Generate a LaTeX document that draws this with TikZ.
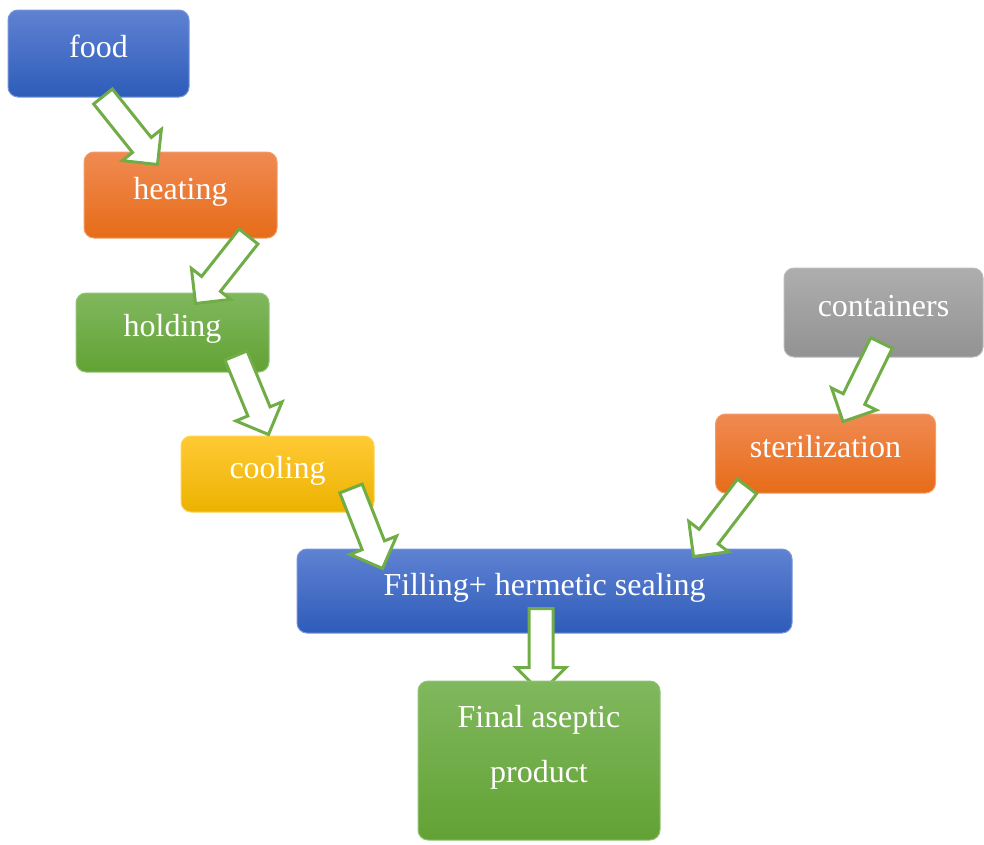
\documentclass[tikz,border=0pt]{standalone}
\usepackage{fontspec}
\setmainfont{Liberation Serif}
\usepackage{tikz}
\usetikzlibrary{calc}
\definecolor{bluetop}{RGB}{95,130,210}
\definecolor{bluebot}{RGB}{46,92,185}
\definecolor{orangetop}{RGB}{240,138,82}
\definecolor{orangebot}{RGB}{230,108,24}
\definecolor{greentop}{RGB}{128,184,94}
\definecolor{greenbot}{RGB}{98,162,52}
\definecolor{goldtop}{RGB}{255,202,52}
\definecolor{goldbot}{RGB}{236,178,0}
\definecolor{graytop}{RGB}{174,174,174}
\definecolor{graybot}{RGB}{146,146,146}
\definecolor{arrowgreen}{RGB}{112,173,71}
\pgfdeclarelayer{front}
\pgfsetlayers{main,front}

\begin{document}
\begin{tikzpicture}[
    x=0.75pt, y=-0.75pt,
    every node/.style={font=\fontsize{24}{29}\selectfont, text=white},
    box/.style={draw=#1top!85!white, line width=0.75pt, rounded corners=7.5pt,
        top color=#1top, bottom color=#1bot, align=center, inner sep=0pt},
    oneline/.style={text height=15pt, text depth=9pt},
    wh/.style 2 args={minimum width=#1*0.75pt, minimum height=#2*0.75pt},
    flow/.style={draw=arrowgreen, line width=2.25pt, fill=white, line join=miter,
        to path={($(\tikztostart)!9pt!90:(\tikztotarget)$)
            -- ($(\tikztotarget)!20.8pt!-25.64:(\tikztostart)$)
            -- ($(\tikztotarget)!26.52pt!-45:(\tikztostart)$)
            -- (\tikztotarget)
            -- ($(\tikztotarget)!26.52pt!45:(\tikztostart)$)
            -- ($(\tikztotarget)!20.8pt!25.64:(\tikztostart)$)
            -- ($(\tikztostart)!9pt!-90:(\tikztotarget)$) -- cycle}}
]
\useasboundingbox (0,0) rectangle (984,844);

\node[box=blue, oneline, wh={181}{87}] (food) at (98.5,53.5) {food};
\node[box=orange, oneline, wh={193}{86}] (heating) at (180.5,195) {heating};
\node[box=green, oneline, wh={193}{79}] (holding) at (172.5,332.5) {holding};
\node[box=gold, oneline, wh={193}{76}] (cooling) at (277.5,474) {cooling};
\node[box=gray, oneline, wh={199}{89}] (containers) at (883.5,312.5) {containers};
\node[box=orange, oneline, wh={220}{79}] (sterilization) at (825.5,453.5) {sterilization};
\node[box=blue, oneline, wh={495}{84}] (filling) at (544.5,591) {Filling+ hermetic sealing};
\begin{pgfonlayer}{front}
\node[box=green, wh={242}{159}, font=\fontsize{24}{41}\selectfont] (final) at (539,760.5)
    {Final aseptic\\product\rule[-25pt]{0pt}{0pt}};
\end{pgfonlayer}

\draw[flow] ($(food.south)+(4.5,-1)$) to ($(heating.north)+(-23,13)$);
\draw[flow] ($(heating.south)+(68,-2)$) to ($(holding.north)+(23,11)$);
\draw[flow] ($(holding.south)+(63.5,-17)$) to ($(cooling.north)+(-9,-1)$);
\draw[flow] ($(cooling.south)+(73.5,-24)$) to ($(filling.north west)+(86,20)$);
\draw[flow] ($(filling.south)+(-3.5,-25)$) to ($(final.north)+(2,12)$);
\draw[flow] ($(containers.south)+(-2,-14.5)$) to ($(sterilization.north)+(17.5,8)$);
\draw[flow] ($(sterilization.south)+(-78.5,-7)$) to ($(filling.north east)+(-99,8)$);
\end{tikzpicture}
\end{document}
